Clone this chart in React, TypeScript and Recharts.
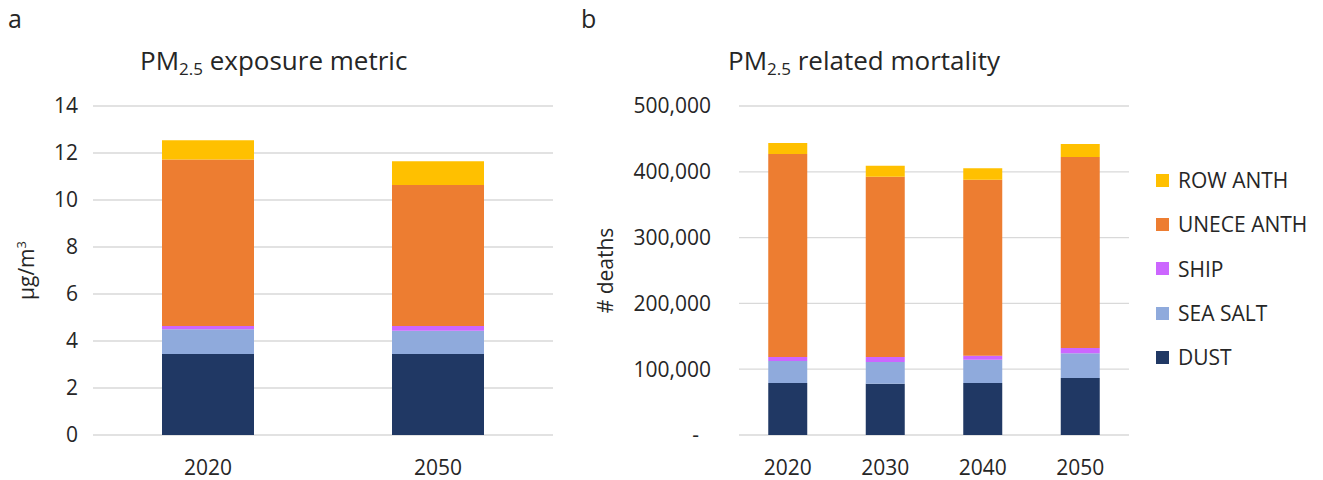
import React from 'react';
import { BarChart, Bar, XAxis, YAxis, CartesianGrid, Legend } from 'recharts';

const FONT = '"Open Sans", sans-serif';
const TEXT = '#262626';
const GRID = '#d9d9d9';

// panel a: PM2.5 exposure metric (µg/m3)
const exposureYears = ['2020', '2050'];
const exposureDust = [3.45, 3.45];
const exposureSeaSalt = [1.05, 0.99];
const exposureShip = [0.14, 0.2];
const exposureUnece = [7.08, 6.0];
const exposureRow = [0.82, 1.01];
const exposureTicks = [0, 2, 4, 6, 8, 10, 12, 14];

// panel b: PM2.5 related mortality (# deaths)
const mortalityYears = ['2020', '2030', '2040', '2050'];
const mortalityDust = [79000, 78000, 79000, 86600];
const mortalitySeaSalt = [33500, 33000, 35500, 37500];
const mortalityShip = [6000, 7500, 6100, 8100];
const mortalityUnece = [308500, 274100, 267400, 290300];
const mortalityRow = [16800, 16700, 17300, 19700];
const mortalityTicks = [0, 100000, 200000, 300000, 400000, 500000];

const series = [
  { key: 'dust', name: 'DUST', color: '#203864' },
  { key: 'seaSalt', name: 'SEA SALT', color: '#8FAADC' },
  { key: 'ship', name: 'SHIP', color: '#CC66FF' },
  { key: 'unece', name: 'UNECE ANTH', color: '#ED7D31' },
  { key: 'row', name: 'ROW ANTH', color: '#FFC000' },
];

const exposureData = exposureYears.map((year, i) => ({
  year,
  dust: exposureDust[i],
  seaSalt: exposureSeaSalt[i],
  ship: exposureShip[i],
  unece: exposureUnece[i],
  row: exposureRow[i],
}));

const mortalityData = mortalityYears.map((year, i) => ({
  year,
  dust: mortalityDust[i],
  seaSalt: mortalitySeaSalt[i],
  ship: mortalityShip[i],
  unece: mortalityUnece[i],
  row: mortalityRow[i],
}));

const tickStyle = { fill: TEXT, fontSize: 21, fontFamily: FONT };

const MortalityTick = (props: any) => {
  const { x, y, payload } = props;
  const v = payload.value;
  const label = v === 0 ? '-' : v.toLocaleString('en-US');
  return (
    <text x={v === 0 ? x - 12 : x} y={y} dy="0.35em" textAnchor="end" {...tickStyle}>
      {label}
    </text>
  );
};

// legend stacked top-down like the bars: last series first
const LegendList = () => (
  <div style={{ fontFamily: FONT, fontSize: 21, color: TEXT }}>
    {[...series].reverse().map((s) => (
      <div key={s.key} style={{ display: 'flex', alignItems: 'center', height: 44.3 }}>
        <span style={{ width: 13, height: 13, background: s.color, marginRight: 9, display: 'inline-block' }} />
        <span>{s.name}</span>
      </div>
    ))}
  </div>
);

const Title = ({ left, text }: { left: number; text: string }) => (
  <div style={{ position: 'absolute', left, top: 42, fontFamily: FONT, fontSize: 26, color: TEXT, whiteSpace: 'nowrap', lineHeight: '36px' }}>
    PM<sub style={{ fontSize: 17, verticalAlign: -5 }}>2.5</sub> {text}
  </div>
);

const Panel = ({ left, text }: { left: number; text: string }) => (
  <div style={{ position: 'absolute', left, top: 2, fontFamily: FONT, fontSize: 25, color: TEXT, lineHeight: '32px' }}>
    {text}
  </div>
);

export default function App() {
  return (
    <div style={{ position: 'absolute', left: 0, top: 0, width: 1323, height: 480, background: '#fff' }}>
      <Panel left={8} text="a" />
      <Panel left={581} text="b" />
      <Title left={140} text="exposure metric" />
      <Title left={728} text="related mortality" />

      <div style={{ position: 'absolute', left: 0, top: 0 }}>
        <BarChart width={560} height={480} data={exposureData} barCategoryGap="30%"
          margin={{ top: 106, right: 7, bottom: 15, left: 33 }}>
          <CartesianGrid vertical={false} stroke={GRID} strokeWidth={1.3} />
          <XAxis dataKey="year" height={30} axisLine={false} tickLine={false} tickSize={0} tickMargin={25} tick={tickStyle} />
          <YAxis width={60} domain={[0, 14]} ticks={exposureTicks} axisLine={false} tickLine={false} tickSize={0} tickMargin={15}
            tick={tickStyle} interval={0}
            label={({ viewBox }: any) => (
              <text transform={`translate(${viewBox.x - 6}, ${viewBox.y + viewBox.height / 2}) rotate(-90)`}
                textAnchor="middle" dy="0.35em" {...tickStyle}>
                μg/m<tspan dy="-8" fontSize={13}>3</tspan>
              </text>
            )} />
          {series.map((s) => (
            <Bar key={s.key} dataKey={s.key} name={s.name} stackId="a" fill={s.color} isAnimationActive={false} />
          ))}
        </BarChart>
      </div>

      <div style={{ position: 'absolute', left: 570, top: 0 }}>
        <BarChart width={753} height={480} data={mortalityData} barCategoryGap="30%"
          margin={{ top: 106, right: 24, bottom: 15, left: 59 }}>
          <CartesianGrid vertical={false} stroke={GRID} strokeWidth={1.3} />
          <XAxis dataKey="year" height={30} axisLine={false} tickLine={false} tickSize={0} tickMargin={25} tick={tickStyle} />
          <YAxis width={110} domain={[0, 500000]} ticks={mortalityTicks} axisLine={false} tickLine={false} tickSize={0} tickMargin={28}
            tick={<MortalityTick />} interval={0}
            label={({ viewBox }: any) => (
              <text transform={`translate(${viewBox.x - 23}, ${viewBox.y + viewBox.height / 2}) rotate(-90)`}
                textAnchor="middle" dy="0.35em" {...tickStyle}>
                # deaths
              </text>
            )} />
          <Legend layout="vertical" align="right" verticalAlign="top" content={<LegendList />}
            wrapperStyle={{ position: 'absolute', left: 586, top: 158, width: 170 }} />
          {series.map((s) => (
            <Bar key={s.key} dataKey={s.key} name={s.name} stackId="a" fill={s.color} isAnimationActive={false} />
          ))}
        </BarChart>
      </div>
    </div>
  );
}
